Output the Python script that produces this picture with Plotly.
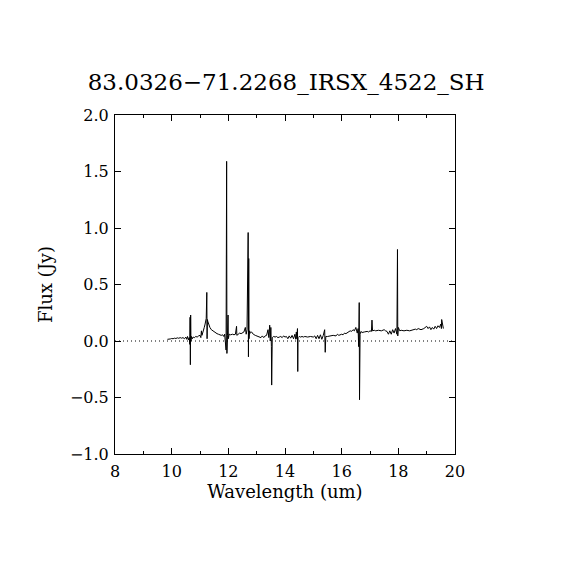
import plotly.graph_objects as go

# spectrum (wavelength in um, flux in Jy)
wave = [
    9.85, 9.90, 9.95, 10.00, 10.05, 10.10, 10.15, 10.20, 10.25, 10.30,
    10.35, 10.40, 10.45, 10.50, 10.53, 10.56, 10.59, 10.62, 10.64, 10.65,
    10.66, 10.67, 10.68, 10.70, 10.73, 10.76, 10.80, 10.85, 10.90, 10.95,
    11.00, 11.03, 11.05, 11.07, 11.10, 11.15, 11.18, 11.20, 11.22, 11.24,
    11.25, 11.26, 11.28, 11.30, 11.35, 11.40, 11.45, 11.50, 11.55, 11.60,
    11.65, 11.70, 11.75, 11.80, 11.84, 11.87, 11.90, 11.92, 11.94, 11.95,
    11.97, 11.99, 12.00, 12.03, 12.08, 12.15, 12.20, 12.25, 12.29, 12.30,
    12.35, 12.40, 12.45, 12.50, 12.55, 12.60, 12.63, 12.66, 12.70, 12.71,
    12.72, 12.73, 12.75, 12.78, 12.82, 12.88, 12.95, 13.00, 13.05, 13.10,
    13.15, 13.20, 13.25, 13.30, 13.35, 13.40, 13.43, 13.46, 13.48, 13.50,
    13.52, 13.53, 13.55, 13.60, 13.65, 13.70, 13.75, 13.80, 13.85, 13.90,
    13.95, 14.00, 14.05, 14.10, 14.15, 14.20, 14.25, 14.30, 14.35, 14.38,
    14.40, 14.42, 14.44, 14.45, 14.46, 14.50, 14.55, 14.60, 14.65, 14.70,
    14.80, 14.90, 15.00, 15.05, 15.10, 15.15, 15.20, 15.25, 15.30, 15.35,
    15.40, 15.42, 15.44, 15.50, 15.60, 15.70, 15.80, 15.85, 15.90, 15.95,
    16.00, 16.05, 16.10, 16.15, 16.20, 16.25, 16.30, 16.35, 16.40, 16.45,
    16.50, 16.55, 16.58, 16.60, 16.62, 16.63, 16.65, 16.68, 16.72, 16.80,
    16.90, 16.95, 17.00, 17.05, 17.07, 17.09, 17.15, 17.20, 17.30, 17.40,
    17.50, 17.55, 17.60, 17.65, 17.70, 17.75, 17.80, 17.85, 17.90, 17.95,
    17.97, 17.98, 18.00, 18.05, 18.10, 18.20, 18.30, 18.40, 18.50, 18.60,
    18.65, 18.70, 18.80, 18.90, 19.00, 19.05, 19.10, 19.15, 19.20, 19.25,
    19.30, 19.35, 19.40, 19.45, 19.50, 19.52, 19.53, 19.56, 19.59,
]
flux = [
    0.015, 0.020, 0.018, 0.022, 0.020, 0.025, 0.022, 0.028, 0.024, 0.030,
    0.025, 0.030, 0.020, 0.035, 0.015, 0.040, 0.010, 0.030, -0.030, 0.210,
    -0.210, 0.230, 0.000, 0.040, 0.020, 0.035, 0.030, 0.040, 0.035, 0.045,
    0.050, 0.030, 0.090, 0.050, 0.070, 0.120, 0.150, 0.170, 0.200, 0.430,
    0.020, 0.190, 0.170, 0.150, 0.120, 0.100, 0.090, 0.080, 0.070, 0.065,
    0.060, 0.055, 0.050, 0.055, 0.040, 0.060, 0.000, -0.080, 1.590, -0.110,
    0.050, 0.230, 0.020, 0.060, 0.055, 0.060, 0.055, 0.060, 0.130, 0.050,
    0.060, 0.070, 0.065, 0.075, 0.080, 0.120, 0.060, 0.100, 0.960, -0.140,
    0.730, 0.020, 0.090, 0.070, 0.080, 0.060, 0.050, 0.045, 0.040, 0.040,
    0.030, 0.045, 0.030, 0.045, 0.050, 0.100, 0.030, 0.140, 0.000, 0.120,
    -0.050, -0.390, 0.030, 0.040, 0.035, 0.040, 0.030, 0.035, 0.040, 0.030,
    0.045, 0.035, 0.040, 0.020, 0.045, 0.025, 0.050, 0.020, 0.060, 0.015,
    0.080, 0.020, 0.110, -0.270, 0.030, 0.040, 0.035, 0.040, 0.035, 0.040,
    0.035, 0.040, 0.035, 0.045, 0.020, 0.050, 0.020, 0.055, 0.015, 0.050,
    0.100, -0.100, 0.040, 0.040, 0.045, 0.050, 0.045, 0.060, 0.050, 0.055,
    0.060, 0.055, 0.070, 0.065, 0.075, 0.080, 0.090, 0.085, 0.100, 0.090,
    0.120, 0.070, 0.110, -0.050, 0.340, -0.520, 0.060, 0.085, 0.075, 0.080,
    0.085, 0.080, 0.090, 0.085, 0.185, 0.090, 0.095, 0.090, 0.095, 0.090,
    0.100, 0.090, 0.085, 0.060, 0.090, 0.060, 0.100, 0.070, 0.110, 0.060,
    0.810, 0.045, 0.120, 0.090, 0.095, 0.090, 0.095, 0.090, 0.100, 0.105,
    0.100, 0.110, 0.100, 0.110, 0.130, 0.110, 0.125, 0.100, 0.120, 0.105,
    0.130, 0.110, 0.135, 0.120, 0.150, 0.110, 0.190, 0.120, 0.110,
]

title = "83.0326\u221271.2268_IRSX_4522_SH"
serif = "DejaVu Serif"

fig = go.Figure()
fig.add_trace(go.Scatter(x=wave, y=flux, mode="lines",
                         line=dict(color="black", width=1), showlegend=False))

# dotted zero line
fig.add_shape(type="line", xref="paper", yref="y", x0=0, x1=1, y0=0, y1=0,
              line=dict(color="black", width=1, dash="1px,3px"))

axis_common = dict(showgrid=False, zeroline=False, showline=True, linecolor="black",
                   linewidth=1, mirror="allticks", ticks="inside", ticklen=6,
                   tickcolor="black", tickfont=dict(family=serif, size=16, color="black"))

fig.update_xaxes(range=[8, 20], tick0=8, dtick=2, ticklabelstandoff=3,
                 minor=dict(dtick=1, ticks="inside", ticklen=3, tickcolor="black"),
                 title=dict(text="Wavelength (um)", font=dict(family=serif, size=18, color="black"),
                            standoff=4),
                 **axis_common)
fig.update_yaxes(range=[-1, 2], tick0=-1, dtick=0.5, tickformat=".1f", ticklabelstandoff=2,
                 title=dict(text="Flux (Jy)", font=dict(family=serif, size=18, color="black"),
                            standoff=12),
                 **axis_common)

fig.update_layout(
    width=570, height=570,
    margin=dict(l=107, r=123, t=107, b=124),
    paper_bgcolor="white", plot_bgcolor="white",
    title=dict(text=title, x=0.488, xanchor="center", y=0.870, yanchor="middle",
               font=dict(family=serif, size=23, color="black")),
)

fig.write_html("out.html")
